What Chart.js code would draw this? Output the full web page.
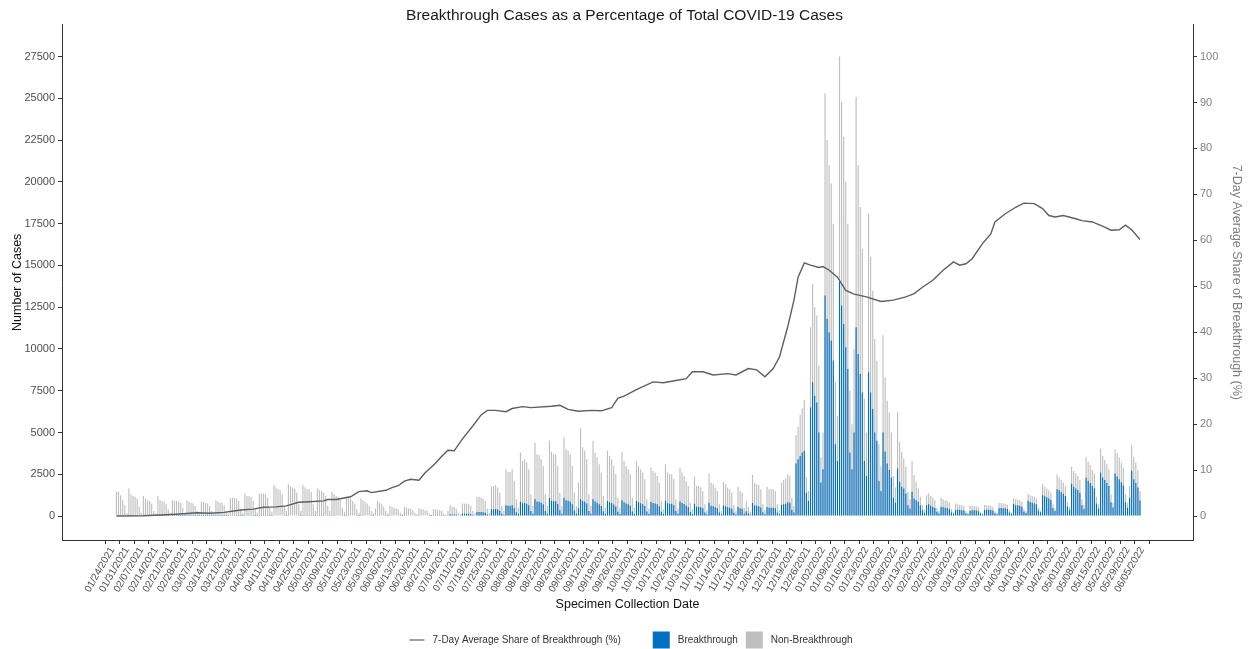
<!DOCTYPE html>
<html>
<head>
<meta charset="utf-8">
<script src="https://cdn.jsdelivr.net/npm/chart.js@4.4.0/dist/chart.umd.min.js"></script>
<style>
  html, body { margin: 0; padding: 0; background: #fff; }
  #wrap { width: 1249px; height: 649px; }
</style>
</head>
<body>
<div id="wrap"><canvas id="chart"></canvas></div>
<script>
// x values are days counted from 01/24/2021; weekly tick every 7 days
const weekLabels = [
    '01/24/2021', '01/31/2021', '02/07/2021', '02/14/2021', '02/21/2021', '02/28/2021', '03/07/2021',
    '03/14/2021', '03/21/2021', '03/28/2021', '04/04/2021', '04/11/2021', '04/18/2021', '04/25/2021',
    '05/02/2021', '05/09/2021', '05/16/2021', '05/23/2021', '05/30/2021', '06/06/2021', '06/13/2021',
    '06/20/2021', '06/27/2021', '07/04/2021', '07/11/2021', '07/18/2021', '07/25/2021', '08/01/2021',
    '08/08/2021', '08/15/2021', '08/22/2021', '08/29/2021', '09/05/2021', '09/12/2021', '09/19/2021',
    '09/26/2021', '10/03/2021', '10/10/2021', '10/17/2021', '10/24/2021', '10/31/2021', '11/07/2021',
    '11/14/2021', '11/21/2021', '11/28/2021', '12/05/2021', '12/12/2021', '12/19/2021', '12/26/2021',
    '01/02/2022', '01/09/2022', '01/16/2022', '01/23/2022', '01/30/2022', '02/06/2022', '02/13/2022',
    '02/20/2022', '02/27/2022', '03/06/2022', '03/13/2022', '03/20/2022', '03/27/2022', '04/03/2022',
    '04/10/2022', '04/17/2022', '04/24/2022', '05/01/2022', '05/08/2022', '05/15/2022', '05/22/2022',
    '05/29/2022', '06/05/2022'
]
const caseTicks = [0, 2500, 5000, 7500, 10000, 12500, 15000, 17500, 20000, 22500, 25000, 27500]
const shareTicks = [0, 10, 20, 30, 40, 50, 60, 70, 80, 90, 100]

// first bar is Tue 01/26/2021 (day 2), one value per day, rows = Mon..Sun
const firstDay = 2
const totalCases = [
    1450, 1450, 1250, 950, 650, 160,
    1650, 1300, 1200, 1150, 1050, 550, 200,
    1200, 1050, 950, 900, 750, 300, 150,
    1200, 950, 900, 850, 700, 400, 200,
    950, 900, 900, 880, 800, 500, 200,
    950, 850, 800, 750, 600, 300, 150,
    850, 850, 800, 750, 600, 300, 150,
    950, 850, 800, 800, 650, 300, 150,
    1100, 1100, 1100, 1050, 900, 400, 200,
    1350, 1200, 1200, 1150, 900, 400, 200,
    1350, 1350, 1350, 1300, 1100, 500, 250,
    1850, 1700, 1600, 1550, 1300, 600, 300,
    1900, 1750, 1700, 1650, 1400, 700, 300,
    1850, 1700, 1600, 1600, 1450, 700, 300,
    1650, 1550, 1500, 1400, 1200, 600, 300,
    1450, 1300, 1200, 1150, 1000, 500, 250,
    1150, 1100, 1050, 900, 750, 400, 200,
    1050, 950, 850, 750, 600, 300, 150,
    450, 920, 800, 700, 550, 300, 150,
    600, 550, 500, 450, 400, 200, 100,
    560, 500, 450, 450, 350, 200, 100,
    460, 400, 400, 350, 300, 150, 80,
    400, 400, 380, 350, 300, 150, 80,
    300, 650, 550, 550, 450, 200, 100,
    750, 750, 750, 700, 600, 300, 150,
    1150, 1150, 1100, 1050, 900, 450, 200,
    1800, 1800, 1850, 1700, 1400, 600, 300,
    2800, 2650, 2650, 2800, 2100, 1000, 500,
    3800, 3300, 3400, 3200, 2800, 1300, 600,
    4400, 3700, 3650, 3400, 3000, 1300, 600,
    4500, 3850, 3700, 3700, 3000, 1400, 600,
    4700, 4000, 3900, 3700, 3000, 1400, 600,
    2000, 5250, 4100, 3900, 3400, 1300, 600,
    4500, 3800, 3500, 3100, 2600, 1200, 500,
    3900, 3600, 3400, 3000, 2500, 1100, 500,
    3850, 3300, 3000, 2800, 2500, 1100, 500,
    3300, 3000, 2800, 2600, 2200, 1000, 450,
    2900, 2700, 2600, 2400, 2000, 900, 400,
    3100, 2600, 2500, 2500, 2200, 1000, 450,
    2900, 2600, 2400, 2100, 1800, 800, 400,
    2350, 1800, 1800, 1700, 1500, 700, 350,
    2550, 2000, 1900, 1700, 1500, 700, 300,
    2050, 1900, 1700, 1600, 1400, 650, 300,
    1750, 1500, 1400, 500, 900, 550, 250,
    2450, 2000, 1900, 1850, 1600, 700, 350,
    1750, 1600, 1600, 1600, 1500, 700, 350,
    2000, 2150, 2250, 2500, 2400, 1100, 600,
    4850, 5350, 6050, 6450, 6950, 2300, 1500,
    11300, 13900, 12500, 12000, 9000, 3500, 5000,
    25300, 22500, 21000, 19900, 17500, 8000, 6000,
    27500, 24800, 22700, 20000, 17500, 7500, 5500,
    10000, 25100, 21000, 18500, 16000, 7000, 5000,
    18100, 15500, 13500, 10600, 9300, 4300, 3000,
    10800, 8300, 6900, 6200, 5000, 2400, 1700,
    6240, 4450, 3850, 3450, 2950, 1450, 1000,
    3290, 2450, 2050, 1650, 1150, 650, 400,
    1250, 1350, 1200, 1100, 950, 500, 300,
    1100, 1000, 950, 900, 800, 400, 250,
    760, 700, 680, 650, 600, 300, 200,
    600, 620, 600, 580, 520, 260, 170,
    660, 650, 640, 620, 560, 280, 180,
    800, 780, 760, 740, 680, 340, 220,
    1060, 1000, 980, 950, 850, 420, 280,
    1320, 1250, 1200, 1150, 1050, 500, 330,
    1910, 1750, 1650, 1550, 1400, 700, 450,
    2490, 2300, 2150, 2000, 1800, 850, 550,
    2950, 2700, 2550, 2400, 2150, 1000, 650,
    3540, 3250, 3050, 2750, 2550, 1150, 700,
    4040, 3600, 3350, 3100, 2800, 1300, 800,
    3990, 3750, 3500, 3200, 2900, 1300, 800,
    1800, 4240, 3550, 3200, 2750, 1500
]
const breakthrough = [
    0, 0, 0, 0, 0, 0,
    1, 1, 1, 1, 1, 0, 0,
    1, 1, 1, 1, 1, 0, 0,
    2, 2, 2, 2, 1, 1, 0,
    4, 4, 4, 4, 3, 2, 1,
    6, 5, 5, 5, 4, 2, 1,
    6, 6, 6, 5, 4, 2, 1,
    7, 6, 6, 6, 5, 2, 1,
    10, 10, 10, 9, 8, 4, 2,
    18, 16, 16, 15, 12, 5, 3,
    20, 20, 20, 20, 16, 8, 4,
    35, 32, 30, 29, 25, 11, 6,
    40, 37, 36, 35, 29, 15, 6,
    52, 48, 45, 45, 41, 20, 8,
    51, 48, 47, 43, 37, 19, 9,
    48, 43, 40, 38, 33, 17, 8,
    41, 40, 38, 32, 27, 14, 7,
    47, 43, 38, 34, 27, 14, 7,
    24, 49, 42, 37, 29, 16, 8,
    42, 38, 35, 32, 28, 14, 7,
    48, 43, 38, 38, 30, 17, 9,
    44, 38, 38, 33, 28, 14, 8,
    52, 52, 49, 45, 39, 20, 10,
    48, 104, 88, 88, 72, 32, 16,
    139, 139, 139, 130, 111, 56, 28,
    247, 247, 236, 226, 194, 97, 43,
    410, 410, 420, 390, 320, 140, 70,
    640, 610, 610, 640, 480, 230, 115,
    850, 760, 780, 740, 640, 300, 140,
    1020, 870, 860, 800, 700, 300, 140,
    1080, 920, 890, 890, 720, 340, 140,
    1100, 940, 920, 870, 700, 330, 140,
    460, 1000, 900, 860, 750, 300, 140,
    1000, 870, 800, 710, 600, 280, 115,
    900, 830, 780, 690, 575, 250, 115,
    950, 820, 750, 700, 620, 270, 125,
    900, 820, 770, 710, 600, 275, 125,
    840, 780, 750, 700, 580, 260, 115,
    910, 770, 740, 740, 650, 295, 130,
    870, 780, 720, 630, 540, 240, 120,
    730, 560, 560, 530, 465, 215, 110,
    790, 620, 590, 530, 465, 215, 95,
    635, 590, 530, 495, 435, 200, 95,
    540, 465, 435, 155, 280, 170, 78,
    785, 640, 610, 590, 510, 225, 110,
    545, 500, 500, 500, 465, 215, 110,
    660, 710, 740, 830, 800, 380, 210,
    3150, 3400, 3600, 3800, 3900, 1400, 900,
    6500, 8000, 7200, 6800, 5000, 2000, 2800,
    13200, 11800, 11000, 10500, 9300, 4300, 3300,
    14000, 12600, 11500, 10100, 8800, 3800, 2800,
    5000, 11300, 9700, 8500, 7400, 3300, 2400,
    8600, 7400, 6400, 5000, 4500, 2100, 1500,
    5000, 3850, 3150, 2750, 2300, 1100, 800,
    2850, 2050, 1750, 1650, 1350, 650, 450,
    1450, 1050, 950, 850, 650, 350, 200,
    650, 700, 620, 560, 480, 250, 150,
    560, 530, 500, 480, 420, 210, 130,
    360, 380, 370, 350, 330, 165, 110,
    300, 350, 340, 330, 290, 145, 95,
    360, 380, 380, 365, 330, 165, 105,
    460, 480, 470, 460, 420, 210, 135,
    720, 650, 640, 620, 550, 275, 180,
    920, 840, 800, 770, 700, 335, 220,
    1250, 1190, 1120, 1050, 950, 475, 305,
    1600, 1540, 1440, 1340, 1200, 570, 370,
    1910, 1750, 1650, 1560, 1400, 650, 420,
    2290, 2110, 1980, 1790, 1650, 750, 455,
    2590, 2300, 2150, 1980, 1790, 830, 510,
    2550, 2360, 2200, 2020, 1830, 820, 500,
    1100, 2710, 2200, 1980, 1700, 930
]

// 7-day average share, read at these days
const shareDay = [
    2, 15, 31, 41, 47, 54, 62, 68, 73, 79, 84, 90, 95, 102, 104, 108, 115, 119, 123, 125,
    132, 135, 138, 141, 144, 148, 151, 156, 159, 162, 165, 169, 174, 178, 181, 185, 190, 193, 198, 202,
    212, 216, 220, 225, 231, 236, 241, 244, 247, 253, 261, 266, 272, 277, 280, 285, 290, 297, 301, 307,
    311, 315, 319, 322, 326, 329, 331, 334, 337, 341, 343, 346, 350, 354, 358, 364, 371, 377, 383, 387,
    391, 396, 401, 406, 409, 412, 415, 420, 424, 426, 431, 436, 440, 445, 449, 452, 455, 459, 465, 468,
    473, 479, 482, 486, 489, 492, 496
]
const shareValue = [
    0, 0.05, 0.4, 0.7, 0.6, 0.8, 1.3, 1.5, 1.9, 2.0, 2.2, 3.0, 3.1, 3.3, 3.6, 3.6, 4.2, 5.3, 5.5, 5.1,
    5.6, 6.2, 6.6, 7.6, 8.0, 7.8, 9.4, 11.5, 13.0, 14.3, 14.2, 16.8, 19.6, 22, 23, 23, 22.7, 23.4, 23.8, 23.6,
    23.9, 24.1, 23.2, 22.8, 23.0, 22.9, 23.6, 25.6, 26.1, 27.5, 29.2, 29.0, 29.5, 29.9, 31.4, 31.4, 30.7, 31.0, 30.7, 32.1,
    31.8, 30.3, 32.1, 34.6, 41.2, 47, 52, 55.1, 54.6, 54.1, 54.3, 53.5, 52, 49.1, 48.3, 47.7, 46.7, 47, 47.7, 48.4,
    49.8, 51.3, 53.5, 55.3, 54.6, 54.9, 56, 59.3, 61.4, 64, 65.8, 67.2, 68.1, 68, 66.9, 65.4, 65.1, 65.4, 64.7, 64.3,
    64, 62.9, 62.2, 62.3, 63.3, 62.3, 60.2
]

const fontFamily = '"Liberation Sans", Arial, Helvetica, sans-serif'
const caseMin = -1435
const caseMax = 29413
const casesPerPercent = 275

const dayPoints = values => values.map((v, i) => ({ x: firstDay + i, y: v }))

// ggplot-like legend: line key, then the two fill keys
const bottomLegend = {
    id: 'bottomLegend',
    afterDraw(chart) {
        const ctx = chart.ctx
        const [lineSet, btSet, totalSet] = chart.data.datasets
        ctx.save()
        ctx.font = '10px ' + fontFamily
        ctx.textBaseline = 'middle'
        const w1 = ctx.measureText(lineSet.label).width
        const w2 = ctx.measureText(btSet.label).width
        const w3 = ctx.measureText(totalSet.label).width
        const total = 15 + 8 + w1 + 32 + 17 + 8 + w2 + 8 + 17 + 8 + w3
        const y = 640
        let x = 631 - total / 2

        ctx.strokeStyle = lineSet.borderColor
        ctx.lineWidth = 1.2
        ctx.beginPath()
        ctx.moveTo(x, y)
        ctx.lineTo(x + 15, y)
        ctx.stroke()
        x += 23
        ctx.fillStyle = '#333'
        ctx.fillText(lineSet.label, x, y)
        x += w1 + 32

        ctx.fillStyle = btSet.backgroundColor
        ctx.fillRect(x, y - 8.5, 17, 17)
        x += 25
        ctx.fillStyle = '#333'
        ctx.fillText(btSet.label, x, y)
        x += w2 + 8

        ctx.fillStyle = totalSet.backgroundColor
        ctx.fillRect(x, y - 8.5, 17, 17)
        x += 25
        ctx.fillStyle = '#333'
        ctx.fillText(totalSet.label, x, y)
        ctx.restore()
    }
}

const axisGrid = { display: true, drawOnChartArea: false, drawTicks: true, tickLength: 4, color: '#333' }
const axisBorder = { display: true, color: '#333', width: 1 }

new Chart(document.getElementById('chart'), {
    type: 'bar',
    data: {
        datasets: [
            {
                type: 'line',
                label: '7-Day Average Share of Breakthrough (%)',
                data: shareDay.map((d, i) => ({ x: d, y: shareValue[i] })),
                yAxisID: 'y2',
                borderColor: '#5f5f5f',
                borderWidth: 1.4,
                pointRadius: 0,
                tension: 0,
                order: 0
            },
            {
                label: 'Breakthrough',
                data: dayPoints(breakthrough),
                backgroundColor: '#0070C0',
                yAxisID: 'y',
                grouped: false,
                barPercentage: 0.55,
                categoryPercentage: 1,
                order: 1
            },
            {
                label: 'Non-Breakthrough',
                data: dayPoints(totalCases),
                backgroundColor: '#BFBFBF',
                yAxisID: 'y',
                grouped: false,
                barPercentage: 0.55,
                categoryPercentage: 1,
                order: 2
            }
        ]
    },
    options: {
        responsive: true,
        maintainAspectRatio: false,
        animation: false,
        layout: { padding: { left: 0, right: 0, top: 0, bottom: 37 } },
        plugins: {
            legend: { display: false },
            tooltip: { enabled: false },
            title: {
                display: true,
                text: 'Breakthrough Cases as a Percentage of Total COVID-19 Cases',
                color: '#1a1a1a',
                font: { family: fontFamily, size: 15.5, weight: 'normal' },
                padding: { top: 6, bottom: 0 }
            }
        },
        scales: {
            x: {
                type: 'linear',
                min: -24.28,
                max: 521.6,
                offset: false,
                grid: axisGrid,
                border: axisBorder,
                afterBuildTicks: scale => { scale.ticks = weekLabels.map((l, i) => ({ value: i * 7 })) },
                afterFit: scale => { scale.height = 72 },
                ticks: {
                    autoSkip: false,
                    minRotation: 60,
                    maxRotation: 60,
                    padding: 1,
                    color: '#4d4d4d',
                    font: { family: fontFamily, size: 10 },
                    callback: (value, index) => weekLabels[index]
                },
                title: {
                    display: true,
                    text: 'Specimen Collection Date',
                    color: '#111',
                    font: { family: fontFamily, size: 12.5 },
                    padding: { top: 0, bottom: 0 }
                }
            },
            y: {
                position: 'left',
                min: caseMin,
                max: caseMax,
                grid: axisGrid,
                border: axisBorder,
                afterBuildTicks: scale => { scale.ticks = caseTicks.map(v => ({ value: v })) },
                afterFit: scale => { scale.width = 62 },
                ticks: {
                    padding: 3,
                    color: '#4d4d4d',
                    font: { family: fontFamily, size: 11 },
                    callback: value => String(value)
                },
                title: {
                    display: true,
                    text: 'Number of Cases',
                    color: '#111',
                    font: { family: fontFamily, size: 12.5 },
                    padding: { top: 10, bottom: 0 }
                }
            },
            y2: {
                position: 'right',
                min: caseMin / casesPerPercent,
                max: caseMax / casesPerPercent,
                grid: axisGrid,
                border: axisBorder,
                afterBuildTicks: scale => { scale.ticks = shareTicks.map(v => ({ value: v })) },
                afterFit: scale => { scale.width = 56 },
                ticks: {
                    padding: 3,
                    color: '#808080',
                    font: { family: fontFamily, size: 11 },
                    callback: value => String(value)
                },
                title: {
                    display: true,
                    text: '7-Day Average Share of Breakthrough (%)',
                    color: '#808080',
                    font: { family: fontFamily, size: 12.5 },
                    padding: { top: 5, bottom: 0 }
                }
            }
        }
    },
    plugins: [bottomLegend]
})
</script>
</body>
</html>
